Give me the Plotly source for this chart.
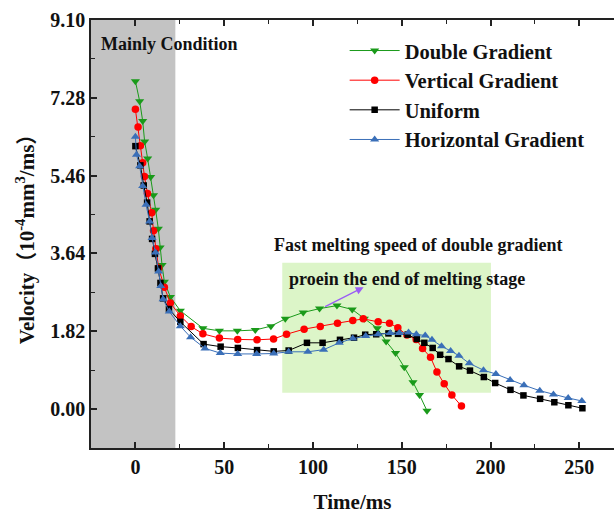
import plotly.graph_objects as go

# ---------------- data ----------------
t_double = [0, 2.4, 4.1, 5.2, 6.9, 8.6, 10.2, 11.4, 12.9, 13.9, 15.0, 16.3, 19.7, 25.3, 38.0, 47.3,
            57.4, 67.5, 76.3, 84.4, 94.5, 103.7, 113.5, 122.1, 128.9, 136.2, 141.2, 146.5, 151.4,
            156.3, 160.0, 164.2]
v_double = [7.67, 7.20, 6.74, 6.26, 5.86, 5.43, 5.00, 4.66, 4.22, 3.78, 3.37, 2.98, 2.62, 2.30, 1.89, 1.83,
            1.83, 1.85, 1.94, 2.11, 2.26, 2.35, 2.42, 2.33, 2.11, 1.89, 1.58, 1.31, 0.98,
            0.63, 0.33, -0.04]

t_vertical = [0, 1.5, 2.8, 4.1, 5.1, 6.8, 9.2, 10.2, 11.5, 13.1, 16.3, 19.7, 25.3, 31.4, 38.0, 47.3,
              57.6, 68.5, 77.8, 85.1, 95.0, 104.1, 113.8, 122.4, 128.3, 136.7, 143.1, 147.8, 152.9,
              158.1, 161.7, 166.2, 169.8, 173.9, 178.2, 183.6]
v_vertical = [7.01, 6.60, 6.16, 5.76, 5.44, 5.04, 4.59, 4.17, 3.75, 3.30, 2.85, 2.48, 2.18, 1.93, 1.76, 1.66,
              1.63, 1.62, 1.64, 1.75, 1.87, 1.93, 2.01, 2.07, 2.11, 2.04, 2.01, 1.90, 1.73,
              1.63, 1.42, 1.21, 0.87, 0.59, 0.33, 0.07]

t_uniform = [0, 2.8, 4.7, 6.6, 8.0, 9.4, 11.0, 12.7, 14.1, 15.6, 18.9, 25.3, 38.4, 48.0, 57.7, 68.5,
             77.9, 86.3, 96.6, 105.4, 115.2, 123.1, 129.4, 135.6, 142.5, 147.9, 153.3, 158.5, 162.7,
             167.4, 171.6, 176.3, 182.3, 188.4, 196.2, 202.6, 211.2, 218.5, 227.9, 235.9, 243.8, 251.7]
v_uniform = [6.15, 5.70, 5.23, 4.83, 4.39, 3.98, 3.63, 3.29, 2.95, 2.59, 2.34, 2.04, 1.52, 1.46, 1.43, 1.38,
             1.35, 1.37, 1.55, 1.55, 1.62, 1.67, 1.74, 1.75, 1.77, 1.76, 1.74, 1.64, 1.55,
             1.43, 1.27, 1.17, 1.00, 0.90, 0.75, 0.61, 0.45, 0.32, 0.24, 0.16, 0.09, 0.02]

t_horizontal = [0, 0.6, 2.4, 4.1, 6.0, 8.0, 9.4, 11.3, 13.1, 14.3, 15.6, 19.1, 25.3, 31.1, 39.2, 47.8,
                57.6, 68.3, 77.9, 86.3, 97.1, 106.0, 114.8, 122.4, 129.7, 136.7, 143.5, 148.6, 153.8,
                158.2, 163.2, 167.0, 172.4, 177.5, 182.2, 188.0, 196.0, 203.0, 211.0, 218.8, 227.7,
                235.4, 243.7, 251.4]
v_horizontal = [6.37, 5.95, 5.68, 5.22, 4.78, 4.39, 4.00, 3.66, 3.22, 2.88, 2.57, 2.28, 1.94, 1.68, 1.42, 1.31,
                1.29, 1.29, 1.30, 1.34, 1.34, 1.39, 1.55, 1.65, 1.71, 1.75, 1.78, 1.78, 1.79,
                1.75, 1.72, 1.62, 1.47, 1.36, 1.25, 1.07, 0.91, 0.82, 0.68, 0.56, 0.43,
                0.34, 0.26, 0.19]

y_ticks = [0.00, 1.82, 3.64, 5.46, 7.28, 9.10]
x_ticks = [0, 50, 100, 150, 200, 250]

FONT = "Liberation Serif, Times New Roman, Noto Sans CJK SC, serif"

series = [
    ("Double Gradient", t_double, v_double, "#1a9a1a", "triangle-down", 8),
    ("Vertical Gradient", t_vertical, v_vertical, "#ff0000", "circle", 7.5),
    ("Uniform", t_uniform, v_uniform, "#000000", "square", 6.5),
    ("Horizontal Gradient", t_horizontal, v_horizontal, "#3a6fb8", "triangle-up", 8),
]

fig = go.Figure()
for name, xs, ys, col, sym, ms in series:
    fig.add_trace(go.Scatter(
        x=xs, y=ys, name=f"<b>{name}</b>", mode="lines+markers",
        line=dict(color=col, width=1),
        marker=dict(symbol=sym, size=ms, color=col, line=dict(width=0)),
    ))

# shaded regions
fig.add_shape(type="rect", xref="x", yref="paper", x0=-25, x1=22.5, y0=0, y1=1,
              fillcolor="#c3c3c3", line=dict(width=0), layer="below")
fig.add_shape(type="rect", xref="x", yref="y", x0=82.7, x1=200.2, y0=0.38, y1=3.42,
              fillcolor="#dcf5c8", line=dict(width=0), layer="below")

# texts
fig.add_annotation(x=-20.5, y=8.55, xref="x", yref="y", text="<b>Mainly Condition</b>",
                   showarrow=False, xanchor="left", yanchor="middle",
                   font=dict(family=FONT, size=18, color="#111"))
fig.add_annotation(x=77.1, y=3.84, xref="x", yref="y", text="<b>Fast melting speed of double gradient</b>",
                   showarrow=False, xanchor="left", yanchor="middle",
                   font=dict(family=FONT, size=18, color="#111"))
fig.add_annotation(x=85.5, y=3.04, xref="x", yref="y", text="<b>proein the end of melting stage</b>",
                   showarrow=False, xanchor="left", yanchor="middle",
                   font=dict(family=FONT, size=18, color="#111"))
fig.add_annotation(x=128.5, y=2.85, ax=106.0, ay=2.38, xref="x", yref="y", axref="x", ayref="y",
                   text="", showarrow=True, arrowhead=2, arrowsize=1.2, arrowwidth=1.3,
                   arrowcolor="#9a5cf5")

axis_common = dict(
    showline=True, linecolor="#222", linewidth=1.6,
    ticks="inside", ticklen=6, tickwidth=1.5, tickcolor="#222",
    showgrid=False, zeroline=False,
    tickfont=dict(family=FONT, size=20, color="#111"),
)

fig.update_xaxes(
    range=[-25, 269.5], tickvals=x_ticks, ticktext=[f"<b>{v}</b>" for v in x_ticks],
    mirror="ticks",
    minor=dict(ticks="inside", ticklen=4, tickwidth=1.3, tickcolor="#222", dtick=25, tick0=0),
    title=dict(text="<b>Time/ms</b>", font=dict(family=FONT, size=21, color="#111"), standoff=18),
    **axis_common,
)
fig.update_yaxes(
    range=[-0.91, 9.1], tickvals=y_ticks, ticktext=[f"<b>{v:.2f}</b>" for v in y_ticks],
    mirror=False,
    minor=dict(ticks="inside", ticklen=4, tickwidth=1.3, tickcolor="#222", dtick=0.91, tick0=0),
    title=dict(text="<b>Velocity（10<sup>-4</sup>mm<sup>3</sup>/ms）</b>",
               font=dict(family=FONT, size=21, color="#111"), standoff=10),
    **axis_common,
)

fig.update_layout(
    width=614, height=518,
    margin=dict(l=91, r=0, t=20, b=70),
    paper_bgcolor="white", plot_bgcolor="white",
    legend=dict(x=0.485, y=0.975, xanchor="left", yanchor="top",
                bgcolor="rgba(0,0,0,0)", borderwidth=0,
                font=dict(family=FONT, size=20.5, color="#111"), itemwidth=50,
                tracegroupgap=0),
    showlegend=True,
)

fig.write_html("out.html")
